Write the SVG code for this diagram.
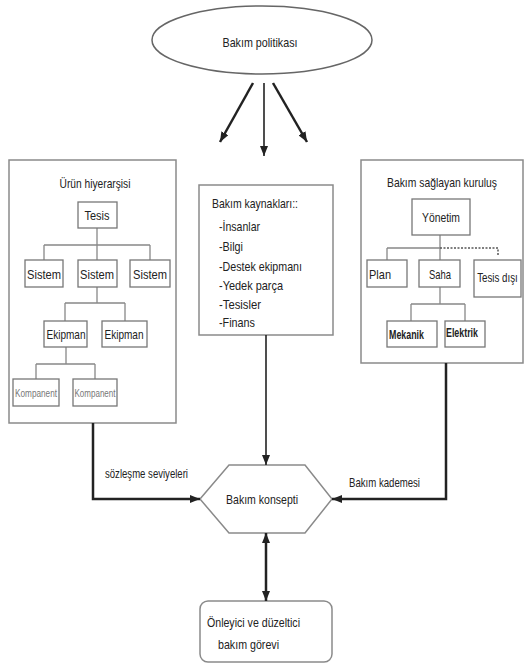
<svg xmlns="http://www.w3.org/2000/svg" width="527" height="664" viewBox="0 0 527 664">
<style>
text{font-family:"Liberation Sans Narrow","Liberation Sans",Arial,sans-serif;fill:#222;font-size:13px;dominant-baseline:central}
.c{text-anchor:middle}
.s{text-anchor:start}
.box{fill:#fff;stroke:#8a8a8a;stroke-width:1.5}
.nb{fill:#fff;stroke:#777;stroke-width:1.3}
.tree{fill:none;stroke:#888;stroke-width:1.3}
.conn{fill:none;stroke:#222;stroke-width:2.5}
.thin{fill:none;stroke:#222;stroke-width:1.6}
.kom{fill:#777;font-size:11px}
.b{font-weight:bold;font-size:12px}
</style>
<defs>
<marker id="ah" markerUnits="userSpaceOnUse" markerWidth="10" markerHeight="8" refX="10" refY="4" orient="auto-start-reverse">
<path d="M0,0 L10,4 L0,8 z" fill="#222"/>
</marker>
</defs>
<rect width="527" height="664" fill="#fff"/>

<g id="policy">
<ellipse cx="262" cy="40" rx="110" ry="34" fill="#fff" stroke="#666" stroke-width="1.5"/>
<text class="c" x="260" y="42" textLength="75" lengthAdjust="spacingAndGlyphs">Bakım politikası</text>
</g>

<g id="urun">
<rect class="box" x="9" y="160" width="167" height="263"/>
<text class="c" x="95" y="183" textLength="71" lengthAdjust="spacingAndGlyphs">Ürün hiyerarşisi</text>
<path class="tree" d="M97,228 V245 M44,245 H150 M44,245 V260 M97,245 V260 M150,245 V260 M97,287 V303 M65,303 H125 M65,303 V321 M125,303 V321 M66,347 V364 M36,364 H95 M36,364 V379 M95,364 V379"/>
<g id="tesis"><rect class="nb" x="78" y="202" width="39" height="26"/><text class="c" x="97" y="215" textLength="25" lengthAdjust="spacingAndGlyphs">Tesis</text></g>
<g id="sistem1"><rect class="nb" x="25" y="260" width="38" height="27"/><text class="c" x="44" y="274" textLength="34" lengthAdjust="spacingAndGlyphs">Sistem</text></g>
<g id="sistem2"><rect class="nb" x="78" y="260" width="39" height="27"/><text class="c" x="97" y="274" textLength="34" lengthAdjust="spacingAndGlyphs">Sistem</text></g>
<g id="sistem3"><rect class="nb" x="130" y="260" width="40" height="27"/><text class="c" x="150" y="274" textLength="34" lengthAdjust="spacingAndGlyphs">Sistem</text></g>
<g id="ekipman1"><rect class="nb" x="44" y="321" width="43" height="26"/><text class="c" x="66" y="334" textLength="39" lengthAdjust="spacingAndGlyphs">Ekipman</text></g>
<g id="ekipman2"><rect class="nb" x="102" y="321" width="45" height="26"/><text class="c" x="124" y="334" textLength="39" lengthAdjust="spacingAndGlyphs">Ekipman</text></g>
<g id="kompanent1"><rect class="nb" x="13" y="379" width="46" height="27"/><text class="c kom" x="36" y="393" textLength="42" lengthAdjust="spacingAndGlyphs">Kompanent</text></g>
<g id="kompanent2"><rect class="nb" x="73" y="379" width="44" height="27"/><text class="c kom" x="95" y="393" textLength="41" lengthAdjust="spacingAndGlyphs">Kompanent</text></g>
</g>

<g id="kaynaklar">
<rect class="box" x="199" y="185" width="134" height="150"/>
<text class="s" x="212" y="203" textLength="86" lengthAdjust="spacingAndGlyphs">Bakım kaynakları::</text>
<text class="s" x="219" y="226" textLength="41" lengthAdjust="spacingAndGlyphs">-İnsanlar</text>
<text class="s" x="219" y="246" textLength="24" lengthAdjust="spacingAndGlyphs">-Bilgi</text>
<text class="s" x="219" y="266" textLength="83" lengthAdjust="spacingAndGlyphs">-Destek ekipmanı</text>
<text class="s" x="219" y="285" textLength="64" lengthAdjust="spacingAndGlyphs">-Yedek parça</text>
<text class="s" x="219" y="304" textLength="42" lengthAdjust="spacingAndGlyphs">-Tesisler</text>
<text class="s" x="219" y="322" textLength="36" lengthAdjust="spacingAndGlyphs">-Finans</text>
</g>

<g id="kurulus">
<rect class="box" x="361" y="160" width="162" height="203"/>
<text class="c" x="442" y="182" textLength="110" lengthAdjust="spacingAndGlyphs">Bakım sağlayan kuruluş</text>
<path class="tree" d="M440,235 V248 M387,248 H440 M387,248 V260 M440,248 V260 M440,287 V304 M411,304 H465 M411,304 V321 M465,304 V321"/>
<path d="M440,248 H498 V256" fill="none" stroke="#555" stroke-width="1.5" stroke-dasharray="2,1.5"/>
<g id="yonetim"><rect class="nb" x="412" y="199" width="58" height="36"/><text class="c" x="441" y="217" textLength="38" lengthAdjust="spacingAndGlyphs">Yönetim</text></g>
<g id="plan"><rect class="nb" x="367" y="260" width="40" height="27"/><text class="s" x="369" y="274" textLength="22" lengthAdjust="spacingAndGlyphs">Plan</text></g>
<g id="saha"><rect class="nb" x="419" y="260" width="41" height="27"/><text class="c" x="440" y="274" textLength="22" lengthAdjust="spacingAndGlyphs">Saha</text></g>
<g id="tesisdisi"><rect class="nb" x="474" y="260" width="47" height="37"/><text class="c" transform="translate(497.5,277) scale(0.75,1)" x="0" y="0" font-size="12">Tesis dışı</text></g>
<g id="mekanik"><rect class="nb" x="387" y="321" width="50" height="26"/><text class="s b" x="389" y="335" textLength="35" lengthAdjust="spacingAndGlyphs">Mekanik</text></g>
<g id="elektrik"><rect class="nb" x="445" y="321" width="40" height="26"/><text class="s b" x="446" y="333" textLength="32" lengthAdjust="spacingAndGlyphs">Elektrik</text></g>
</g>

<g id="konsept">
<polygon points="200,499 229,465 305,465 332,499 305,533 229,533" fill="#fff" stroke="#8a8a8a" stroke-width="1.5"/>
<text class="c" x="262" y="499" textLength="72" lengthAdjust="spacingAndGlyphs">Bakım konsepti</text>
</g>

<g id="gorev">
<rect x="200" y="601" width="132" height="61" rx="8" fill="#fff" stroke="#8a8a8a" stroke-width="1.5"/>
<text class="s" x="207" y="622" textLength="93" lengthAdjust="spacingAndGlyphs">Önleyici ve düzeltici</text>
<text class="s" x="218" y="644" textLength="61" lengthAdjust="spacingAndGlyphs">bakım görevi</text>
</g>

<g id="connectors">
<line class="conn" x1="253" y1="83" x2="220" y2="142" marker-end="url(#ah)"/>
<line class="thin" x1="264" y1="83" x2="264" y2="156" marker-end="url(#ah)"/>
<line class="conn" x1="273" y1="83" x2="307" y2="142" marker-end="url(#ah)"/>
<path class="conn" d="M93,423 V499 H200" marker-end="url(#ah)"/>
<path class="conn" d="M446,363 V499 H332" marker-end="url(#ah)"/>
<line class="thin" x1="266" y1="335" x2="266" y2="465" marker-end="url(#ah)"/>
<line class="conn" x1="266" y1="533" x2="266" y2="601" marker-start="url(#ah)" marker-end="url(#ah)"/>
</g>

<g id="labels">
<text class="s" x="105" y="473" font-size="12" textLength="83" lengthAdjust="spacingAndGlyphs">sözleşme seviyeleri</text>
<text class="s" x="349" y="482" font-size="12" textLength="71" lengthAdjust="spacingAndGlyphs">Bakım kademesi</text>
</g>
</svg>
